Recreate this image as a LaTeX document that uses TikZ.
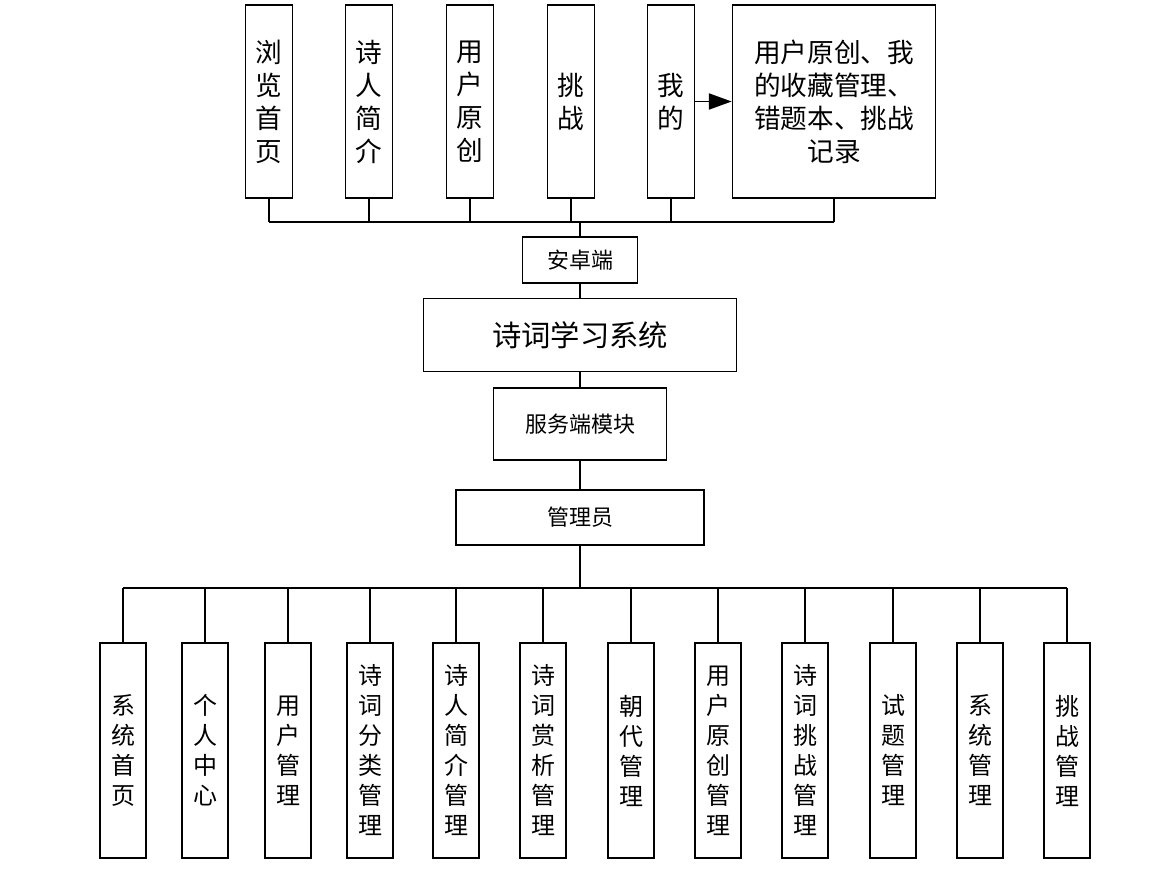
\documentclass[tikz,border=0pt]{standalone}
\usepackage{fontspec}
\newfontfamily\cjk{Noto Sans CJK SC}
\usetikzlibrary{arrows.meta}

\begin{document}
\begin{tikzpicture}[x=0.75pt,y=-0.75pt,line width=1.3pt,
  box/.style={draw,line width=1.3pt,inner sep=0pt,align=center},
  topbox/.style={box,minimum width=35.25pt,minimum height=144.75pt,font=\cjk\fontsize{20}{24.75}\selectfont},
  midbox/.style={box,font=\cjk\fontsize{16.5}{20}\selectfont},
  lowbox/.style={box,minimum width=34.5pt,minimum height=161.25pt,font=\cjk\fontsize{18}{22.5}\selectfont}]

\useasboundingbox (0,0) rectangle (1172,870);

% android side
\foreach \x/\t [count=\i] in {269/浏\\览\\首\\页,369/诗\\人\\简\\介,470/用\\户\\原\\创,571/挑\\战,671/我\\的}
{
\node[topbox] (t\i) at (\x,101.5) {\t};
}
\node[topbox,minimum width=152.25pt] (mine) at (834,101.5) {用户原创、我\\的收藏管理、\\错题本、挑战\\记录};

\coordinate (tbus) at (580,222);
\node[midbox,minimum width=86.25pt,minimum height=34.5pt] (android) at (580,260) {安卓端};
\node[box,minimum width=234.75pt,minimum height=54.75pt,font=\cjk\fontsize{22}{26}\selectfont] (sys) at (580,335) {诗词学习系统};
\node[midbox,minimum width=129.75pt,minimum height=54pt] (server) at (580,424) {服务端模块};
\node[midbox,minimum width=186pt,minimum height=41.25pt] (admin) at (580,517.5) {管理员};

\foreach \i in {1,...,5}
{
\draw (t\i.south) -- (t\i.south |- tbus);
}
\draw (mine.south) -- (mine.south |- tbus);
\draw (t1.south |- tbus) -- (mine.south |- tbus);
\draw (tbus) -- (android.north);
\draw (android.south) -- (sys.north);
\draw (sys.south) -- (server.north);
\draw (server.south) -- (admin.north);
\draw[-{Triangle[length=17pt,width=12pt]}] (t5.east) -- (mine.west);

% admin side
\coordinate (lbus) at (580,588);
\foreach \x/\t [count=\i] in {123/系\\统\\首\\页,205/个\\人\\中\\心,288/用\\户\\管\\理,370/诗\\词\\分\\类\\管\\理,456/诗\\人\\简\\介\\管\\理,543/诗\\词\\赏\\析\\管\\理,631/朝\\代\\管\\理,718/用\\户\\原\\创\\管\\理,805/诗\\词\\挑\\战\\管\\理,893/试\\题\\管\\理,980/系\\统\\管\\理,1067/挑\\战\\管\\理}
{
\node[lowbox] (b\i) at (\x,750.5) {\t};
\draw (b\i.north) -- (b\i.north |- lbus);
}
\draw (admin.south) -- (lbus);
\draw (b1.north |- lbus) -- (b12.north |- lbus);
\end{tikzpicture}
\end{document}
